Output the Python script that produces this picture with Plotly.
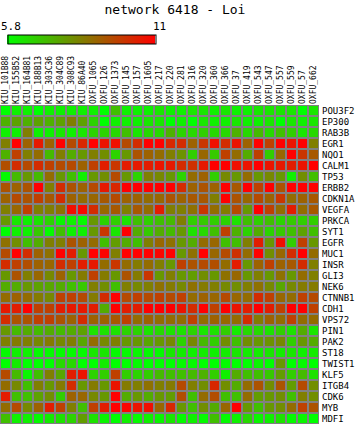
import plotly.graph_objects as go

title_text = "network 6418 - Loi"

samples = ["KIU_101B88", "KIU_155B52", "KIU_164B81", "KIU_188B13", "KIU_303C36",
           "KIU_304C89", "KIU_308C93", "KIU_86A40", "OXFU_1065", "OXFU_126",
           "OXFU_1373", "OXFU_145", "OXFU_157", "OXFU_1605", "OXFU_217",
           "OXFU_220", "OXFU_281", "OXFU_316", "OXFU_320", "OXFU_360",
           "OXFU_366", "OXFU_37", "OXFU_419", "OXFU_543", "OXFU_547",
           "OXFU_557", "OXFU_559", "OXFU_57", "OXFU_662"]

genes = ["POU3F2", "EP300", "RAB3B", "EGR1", "NQO1", "CALM1", "TP53", "ERBB2",
         "CDKN1A", "VEGFA", "PRKCA", "SYT1", "EGFR", "MUC1", "INSR", "GLI3",
         "NEK6", "CTNNB1", "CDH1", "VPS72", "PIN1", "PAK2", "ST18", "TWIST1",
         "KLF5", "ITGB4", "CDK6", "MYB", "MDFI"]

colorbar_labels = ["5.8", "11"]

POU3F2 = [5.8,6.1,6.1,5.8,6.1,6.1,6.1,6.1,6.1,5.8,7.1,6.1,6.1,6.1,6.3, 6.1,6.1,6.3,6.3,6.1,6.3,6.1,6.1,6.3,6.3,6.3,6.3,5.8,6.3]
EP300 = [7.4,7.7,7.4,7.7,7.4,7.7,8.4,7.7,6.7,5.8,6.1,6.1,6.1,6.3,6.3, 5.8,6.1,5.8,6.3,6.1,6.1,6.3,6.1,6.1,6.3,5.8,6.3,6.1,6.3]
RAB3B = [6.1,6.1,8.4,6.1,6.1,6.3,6.1,6.3,6.7,6.7,6.6,7.1,6.3,6.6,6.6, 7.4,6.7,6.6,6.8,6.6,6.6,7.4,6.6,7.2,6.6,7.1,6.8,6.3,6.6]
EGR1 = [8.4,11.0,9.0,10.5,9.0,11.0,9.5,10.2,11.0,10.6,10.7,9.5,10.1,11.0,11.0, 10.2,10.1,9.0,9.9,10.7,10.1,10.6,9.0,11.0,9.7,11.0,10.6,11.0,8.4]
NQO1 = [7.4,9.7,8.4,8.8,7.2,8.4,7.5,7.9,8.4,8.1,6.7,7.9,9.3,9.0,8.8, 8.4,8.0,6.8,8.9,6.9,9.7,8.8,7.5,9.7,6.8,8.9,11.0,9.9,9.2]
CALM1 = [9.4,10.1,9.5,10.1,9.7,9.5,9.5,9.0,9.7,10.4,9.9,10.4,10.5,10.4,10.6, 10.5,10.1,10.0,10.5,11.0,11.0,10.7,10.6,11.0,10.6,10.5,10.4,10.6,11.0]
TP53 = [5.9,7.2,7.9,7.2,8.8,7.9,7.1,6.1,7.9,8.1,9.5,7.9,6.7,8.4,8.2, 7.9,6.7,8.8,9.0,6.8,8.2,7.9,8.8,7.9,8.2,7.9,6.1,8.1,7.1]
ERBB2 = [9.3,9.0,9.3,11.0,8.4,10.1,9.3,9.0,9.5,10.5,10.2,11.0,11.0,11.0,11.0, 11.0,10.1,9.0,9.3,9.0,11.0,9.2,11.0,9.7,11.0,9.3,11.0,11.0,11.0]
CDKN1A = [9.0,9.5,9.3,9.7,9.2,10.1,9.0,8.8,8.9,9.2,9.5,9.0,9.0,8.8,8.9, 9.3,9.0,9.2,9.2,8.4,11.0,9.3,8.9,9.5,9.0,9.9,8.8,9.0,9.2]
VEGFA = [8.4,8.9,9.7,8.4,8.4,8.7,10.7,10.8,10.1,8.9,9.2,8.4,9.2,8.8,10.4, 8.4,8.4,8.7,9.9,8.8,8.5,9.5,7.9,11.0,9.7,8.8,10.4,8.8,9.2]
PRKCA = [7.9,6.3,6.1,6.4,6.7,6.0,6.1,5.9,7.9,6.7,6.8,6.4,7.1,6.8,7.1, 7.2,8.4,6.8,6.9,6.8,6.7,6.4,7.1,6.8,7.1,6.7,6.9,6.8,6.8]
SYT1 = [5.8,6.1,6.1,6.9,5.9,7.1,6.1,6.1,7.9,9.9,6.3,11.0,7.5,6.9,7.5, 7.2,7.9,6.4,6.6,7.1,9.7,7.4,6.7,7.5,6.7,6.9,7.1,7.7,7.1]
EGFR = [8.7,8.1,7.1,7.5,8.4,8.4,9.3,9.0,8.8,7.1,7.8,7.5,7.1,8.4,8.9, 8.7,7.9,7.5,8.8,8.9,7.1,7.1,8.4,10.4,7.9,10.7,6.8,9.7,7.9]
MUC1 = [9.5,11.0,10.1,9.0,8.7,11.0,10.4,7.9,11.0,10.9,8.4,11.0,11.0,11.0,10.9, 11.0,7.9,8.7,11.0,8.9,9.5,10.0,8.8,11.0,8.1,8.9,10.1,11.0,8.8]
INSR = [10.1,9.7,9.4,9.0,8.9,10.1,9.7,10.4,10.5,8.8,9.9,8.8,8.5,8.8,8.4, 7.9,9.7,9.3,9.5,9.4,8.8,10.4,7.9,9.0,9.7,9.0,9.2,10.1,8.4]
GLI3 = [7.9,9.3,8.4,8.9,8.2,9.0,7.9,8.5,9.7,8.5,7.9,9.3,8.5,9.9,7.9, 8.4,7.9,7.8,8.1,7.9,8.7,8.9,7.9,8.4,7.9,8.7,7.9,8.8,8.4]
NEK6 = [7.5,7.5,7.9,7.7,7.6,7.5,7.1,6.9,8.4,8.1,7.1,8.4,8.2,8.4,8.7, 8.5,8.2,8.7,8.5,8.4,8.2,8.1,8.4,8.7,8.2,7.6,8.2,8.5,8.5]
CTNNB1 = [8.8,9.0,8.8,8.5,8.2,9.7,9.7,9.5,8.5,10.1,11.0,9.5,9.7,9.5,9.7, 9.5,9.7,8.8,9.0,8.9,9.5,8.9,8.8,10.1,9.7,8.9,8.8,9.7,9.5]
CDH1 = [10.5,10.4,11.0,9.7,9.7,10.4,10.5,10.5,10.4,7.5,11.0,10.4,10.4,11.0,11.0, 11.0,10.6,10.1,11.0,9.7,11.0,10.6,10.4,11.0,10.4,9.7,11.0,11.0,9.7]
VPS72 = [10.1,9.3,9.3,9.7,9.7,9.3,9.0,10.1,9.0,9.0,9.2,9.7,8.8,9.0,8.8, 8.8,8.8,9.7,8.8,9.0,8.9,8.8,10.1,8.5,9.0,8.8,9.7,8.8,8.8]
PIN1 = [7.9,7.2,7.5,7.2,7.5,7.2,7.5,7.7,6.4,6.4,6.4,6.7,6.7,6.4,6.6, 6.4,6.4,6.7,6.3,6.4,6.8,6.2,6.6,6.6,6.4,6.8,6.4,7.5,6.3]
PAK2 = [8.4,8.5,8.4,8.2,8.5,8.2,8.4,7.6,8.8,8.2,8.4,7.9,7.9,7.6,7.9, 8.2,6.7,8.2,7.2,6.8,8.1,7.1,8.1,7.9,8.0,8.2,6.8,7.9,7.5]
ST18 = [5.9,6.1,6.1,5.9,5.9,5.9,5.9,5.9,6.3,6.3,5.9,5.9,6.0,5.9,5.9, 6.3,6.2,6.1,6.2,6.1,6.2,6.3,6.2,6.2,6.3,6.2,6.3,6.1,6.2]
TWIST1 = [5.8,6.2,5.8,5.8,5.8,6.6,6.6,5.8,5.8,6.2,5.8,5.8,5.9,5.8,5.8, 5.8,5.9,5.9,5.8,5.8,5.9,5.8,5.8,6.0,5.8,7.9,5.8,5.9,5.8]
KLF5 = [9.5,7.2,6.0,7.1,8.4,7.6,10.4,10.6,6.7,6.8,9.7,6.8,6.7,6.8,7.2, 7.1,7.1,7.2,7.4,6.8,6.1,7.5,7.1,7.1,6.9,7.8,6.8,7.2,6.4]
ITGB4 = [8.8,8.2,7.1,8.4,7.9,8.5,10.1,7.9,8.5,7.9,10.6,8.5,8.4,8.7,8.4, 8.5,9.5,8.4,8.1,10.2,8.1,7.5,8.8,9.3,8.1,9.3,7.8,9.5,8.1]
CDK6 = [10.4,7.1,7.1,7.7,8.1,6.8,9.0,8.9,8.2,7.9,11.0,7.5,7.9,7.5,7.9, 7.8,9.4,7.1,8.8,9.4,7.1,7.1,8.8,7.8,7.9,8.1,7.1,8.4,8.1]
MYB = [8.8,9.5,8.2,9.0,10.4,9.7,8.4,7.1,9.7,10.4,11.0,10.9,10.6,10.7,8.9, 10.2,7.9,7.1,8.1,7.5,8.9,11.0,7.9,7.1,7.9,8.1,8.8,9.7,9.3]
MDFI = [7.1,6.1,6.1,5.9,6.2,6.4,6.7,7.8,6.4,6.0,5.8,6.1,5.9,6.1,6.0, 6.3,5.9,6.1,5.9,7.1,5.9,6.1,6.6,6.0,6.1,6.4,5.9,6.0,5.8]

z = [POU3F2, EP300, RAB3B, EGR1, NQO1, CALM1, TP53, ERBB2, CDKN1A, VEGFA,
     PRKCA, SYT1, EGFR, MUC1, INSR, GLI3, NEK6, CTNNB1, CDH1, VPS72, PIN1,
     PAK2, ST18, TWIST1, KLF5, ITGB4, CDK6, MYB, MDFI]

zmin, zmax = 5.8, 11.0
mono = "DejaVu Sans Mono"
W, H = 356, 425
ML, MR, MT, MB = 0, 37, 105, 1
PW, PH = W - ML - MR, H - MT - MB

# colorbar geometry (pixels from top-left of the figure)
cb_left, cb_len, cb_top, cb_thick = 8, 148, 35, 9

fig = go.Figure(go.Heatmap(
    z=z, x=samples, y=genes,
    zmin=zmin, zmax=zmax,
    colorscale=[[0, "#00ff00"], [1, "#ff0000"]],
    xgap=2, ygap=2,
    colorbar=dict(
        orientation="h",
        xref="container", yref="container",
        x=cb_left / W, xanchor="left",
        y=1 - cb_top / H, yanchor="top",
        len=cb_len, lenmode="pixels",
        thickness=cb_thick, thicknessmode="pixels",
        outlinecolor="black", outlinewidth=1,
        showticklabels=False, ticks="",
        xpad=0, ypad=0,
    ),
))

# colorbar end labels, placed above the bar
label_left_px = [0, 152]
for px, label in zip(label_left_px, colorbar_labels):
    fig.add_annotation(
        xref="paper", yref="paper",
        x=(px - ML) / PW,
        y=1 + (MT - cb_top + 1) / PH,
        text=label, showarrow=False, xanchor="left", yanchor="bottom",
        font=dict(family=mono, size=11, color="black"),
        borderpad=0,
    )

fig.update_layout(
    width=W, height=H,
    margin=dict(l=ML, r=MR, t=MT, b=MB, autoexpand=False),
    paper_bgcolor="white", plot_bgcolor="#808080",
    title=dict(text=title_text, x=175 / W, xanchor="center",
               y=1 - 9 / H, yanchor="middle",
               font=dict(family=mono, size=13, color="black")),
    xaxis=dict(side="top", tickangle=-90, showgrid=False, zeroline=False,
               ticks="", tickfont=dict(family=mono, size=8, color="black"),
               ticklabelstandoff=0),
    yaxis=dict(side="right", autorange="reversed", showgrid=False, zeroline=False,
               ticks="", tickfont=dict(family=mono, size=9, color="black"),
               ticklabelstandoff=2),
)

fig.write_html("out.html", config={"displayModeBar": False},
               post_script="document.body.style.margin='0';")
